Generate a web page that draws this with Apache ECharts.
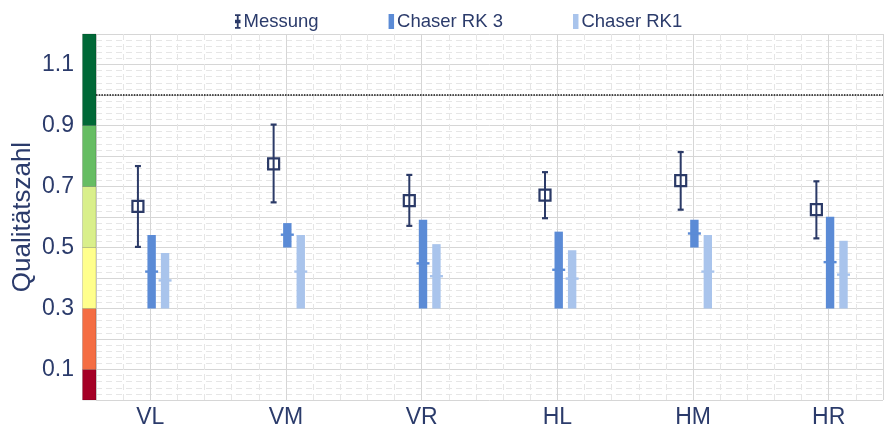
<!DOCTYPE html>
<html><head><meta charset="utf-8">
<script src="https://cdn.jsdelivr.net/npm/echarts@6/dist/echarts.min.js"></script>
<style>html,body{margin:0;padding:0;background:#fff}#c{width:887px;height:430px}</style>
</head><body><div id="c"></div>
<script>
// ---- data ----
const categories = ['VL', 'VM', 'VR', 'HL', 'HM', 'HR'];
const messMean = [0.635, 0.774, 0.654, 0.672, 0.719, 0.624];
const messLow  = [0.502, 0.648, 0.571, 0.596, 0.624, 0.530];
const messHigh = [0.767, 0.903, 0.738, 0.747, 0.813, 0.717];
const rk3Low   = [0.30, 0.50, 0.30, 0.30, 0.50, 0.30];
const rk3High  = [0.541, 0.580, 0.591, 0.552, 0.591, 0.601];
const rk3Mark  = [0.421, 0.542, 0.448, 0.427, 0.546, 0.452];
const rk1Low   = [0.30, 0.30, 0.30, 0.30, 0.30, 0.30];
const rk1High  = [0.482, 0.541, 0.511, 0.491, 0.541, 0.522];
const rk1Mark  = [0.392, 0.421, 0.406, 0.398, 0.421, 0.411];
const bandLow  = [0.0, 0.1, 0.3, 0.5, 0.7, 0.9];
const bandHigh = [0.1, 0.3, 0.5, 0.7, 0.9, 1.2];
const threshold = 1.0;
const seriesNames = ['Messung', 'Chaser RK 3', 'Chaser RK1'];

// ---- style ----
const bandColors = ['#a50026', '#f46d43', '#ffff8c', '#d9ef8b', '#66bd63', '#006837'];
const NAVY = '#2b3b6b';
const C_MESS = '#2b3a67', C_RK3 = '#5b8bd6', C_RK1 = '#a9c4ec';
const OFF_MESS = -0.091, OFF_RK3 = 0.01, OFF_RK1 = 0.109;
const XMIN = 0.6, XMAX = 6.4;

function renderMess(params, api) {
  const x = api.value(0) + OFF_MESS;
  const lo = api.coord([x, api.value(1)]);
  const hi = api.coord([x, api.value(2)]);
  const m = api.coord([x, api.value(3)]);
  const col = C_MESS, cw = 3, s = 5.5;
  return { type: 'group', children: [
    { type: 'line', shape: { x1: lo[0], y1: lo[1], x2: hi[0], y2: hi[1] }, style: { stroke: col, lineWidth: 2 } },
    { type: 'line', shape: { x1: lo[0] - cw, y1: lo[1], x2: lo[0] + cw, y2: lo[1] }, style: { stroke: col, lineWidth: 2.2 } },
    { type: 'line', shape: { x1: hi[0] - cw, y1: hi[1], x2: hi[0] + cw, y2: hi[1] }, style: { stroke: col, lineWidth: 2.2 } },
    { type: 'rect', shape: { x: m[0] - s, y: m[1] - s, width: 2 * s, height: 2 * s }, style: { fill: '#fff', stroke: col, lineWidth: 2.2 } },
    { type: 'line', shape: { x1: m[0], y1: m[1] - s, x2: m[0], y2: m[1] + s }, style: { stroke: col, lineWidth: 2 } }
  ]};
}
function makeBarRenderer(off, col) {
  return function (params, api) {
    const x = api.value(0) + off;
    const lo = api.coord([x, api.value(1)]);
    const hi = api.coord([x, api.value(2)]);
    const mk = api.coord([x, api.value(3)]);
    const w = 8.4, mw = 13;
    return { type: 'group', children: [
      { type: 'rect', shape: { x: lo[0] - w / 2, y: hi[1], width: w, height: lo[1] - hi[1] }, style: { fill: col } },
      { type: 'rect', shape: { x: mk[0] - mw / 2, y: mk[1] - 1.2, width: mw, height: 2.4 }, style: { fill: col } }
    ]};
  };
}
function renderBand(params, api) {
  const lo = api.coord([XMIN, api.value(0)]);
  const hi = api.coord([XMIN, api.value(1)]);
  return { type: 'rect', shape: { x: lo[0] - 13.5, y: hi[1], width: 13.5, height: lo[1] - hi[1] },
    style: { fill: bandColors[params.dataIndex], stroke: 'rgba(0,0,0,0.25)', lineWidth: 0.6 } };
}

const messData = categories.map((c, i) => [i + 1, messLow[i], messHigh[i], messMean[i]]);
const rk3Data = categories.map((c, i) => [i + 1, rk3Low[i], rk3High[i], rk3Mark[i]]);
const rk1Data = categories.map((c, i) => [i + 1, rk1Low[i], rk1High[i], rk1Mark[i]]);
const bandData = bandLow.map((v, i) => [v, bandHigh[i]]);

const chart = echarts.init(document.getElementById('c'), null, { renderer: 'canvas' });
const FONT = 'Liberation Sans';
chart.setOption({
  animation: false,
  textStyle: { fontFamily: FONT },
  grid: { left: 96, right: 4, top: 34, bottom: 30, containLabel: false, outerBoundsMode: 'none' },
  legend: {
    data: [
      { name: seriesNames[0], icon: 'path://M0,0H6V2H4V6H6V10H4V14H6V16H0V14H2V10H0V6H2V2H0Z' },
      { name: seriesNames[1], icon: 'rect' },
      { name: seriesNames[2], icon: 'rect' }
    ],
    left: 230, top: 7, itemWidth: 5.5, itemHeight: 15, itemGap: 70,
    textStyle: { color: NAVY, fontSize: 18.5, fontFamily: FONT, padding: [0, 0, 0, -2] }
  },
  xAxis: {
    type: 'value', min: XMIN, max: XMAX, minInterval: 1, maxInterval: 1,
    axisLine: { show: false }, axisTick: { show: false },
    axisLabel: { color: NAVY, fontSize: 23, margin: 6,
      formatter: v => Math.abs(v - Math.round(v)) < 1e-6 && Math.round(v) >= 1 && Math.round(v) <= categories.length ? categories[Math.round(v) - 1] : '' },
    splitLine: { show: true, lineStyle: { color: '#d6d6d6', width: 1 } },
    minorTick: { show: false, splitNumber: 5 },
    minorSplitLine: { show: true, lineStyle: { color: '#e6e6e6', width: 1, type: [6, 4] } }
  },
  yAxis: {
    type: 'value', min: 0, max: 1.2, interval: 0.1,
    name: 'Qualitätszahl', nameLocation: 'middle', nameGap: 60, nameMoveOverlap: false,
    nameTextStyle: { color: NAVY, fontSize: 26, fontFamily: FONT },
    axisLine: { show: false }, axisTick: { show: false },
    axisLabel: { color: NAVY, fontSize: 23, margin: 22,
      formatter: v => (Math.round(v * 10) % 2 === 1 ? v.toFixed(1) : '') },
    splitLine: { show: true, lineStyle: { color: '#d6d6d6', width: 1 } },
    minorTick: { show: false, splitNumber: 5 },
    minorSplitLine: { show: true, lineStyle: { color: '#e6e6e6', width: 1, type: [6, 4] } }
  },
  series: [
    { type: 'custom', name: 'bands', data: bandData, renderItem: renderBand, clip: false, silent: true, z: 1 },
    { type: 'line', name: 'threshold', data: [], silent: true, z: 3,
      markLine: { symbol: 'none', silent: true, label: { show: false },
        lineStyle: { color: '#111', width: 1.5, type: [1.5, 1.2] }, data: [{ yAxis: threshold }] } },
    { type: 'custom', name: seriesNames[0], data: messData, renderItem: renderMess, itemStyle: { color: C_MESS }, z: 5 },
    { type: 'custom', name: seriesNames[1], data: rk3Data, renderItem: makeBarRenderer(OFF_RK3, C_RK3), itemStyle: { color: C_RK3 }, z: 4 },
    { type: 'custom', name: seriesNames[2], data: rk1Data, renderItem: makeBarRenderer(OFF_RK1, C_RK1), itemStyle: { color: C_RK1 }, z: 4 }
  ]
});
</script>
</body></html>
